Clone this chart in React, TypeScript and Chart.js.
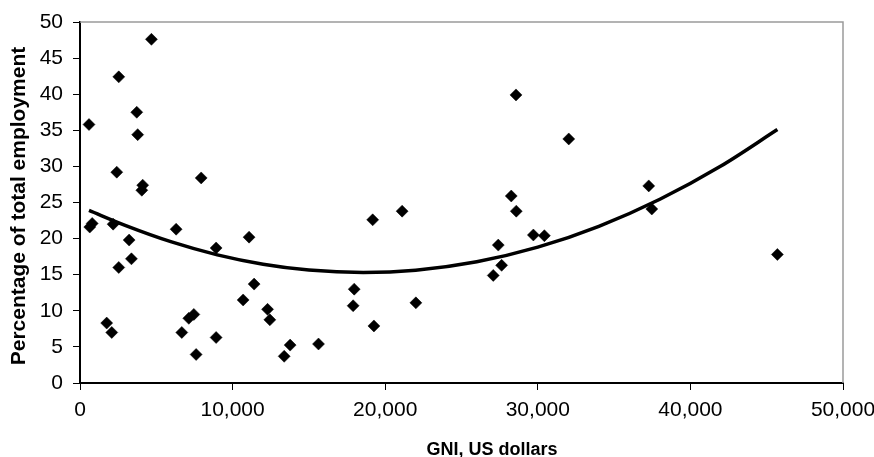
import React, { useEffect, useRef } from "react";
import { Chart, registerables } from "chart.js";

Chart.register(...registerables);

// Scatter data: GNI (US dollars) vs percentage of total employment
const GNI_X = [
  640, 800, 590, 4680, 2540, 3720, 3780, 2410, 4110, 4050,
  7940, 2170, 3220, 3370, 2540, 1750, 2080, 6300, 8920, 11080,
  11410, 10690, 12290, 12440, 6670, 7130, 7460, 7610, 8920, 13380,
  13770, 15630, 17970, 17900, 19260, 22010, 27080, 27630, 27410, 29710,
  30430, 19180, 21110, 28570, 32030, 28260, 28590, 37270, 37470, 45700,
];
const EMP_Y = [
  21.6, 22.1, 35.8, 47.6, 42.4, 37.5, 34.4, 29.2, 27.4, 26.7,
  28.4, 22.0, 19.8, 17.2, 16.0, 8.3, 7.0, 21.3, 18.7, 20.2,
  13.7, 11.5, 10.2, 8.75, 7.0, 8.96, 9.5, 3.95, 6.3, 3.7,
  5.25, 5.4, 13.0, 10.7, 7.9, 11.1, 14.9, 16.3, 19.1, 20.5,
  20.4, 22.6, 23.8, 39.9, 33.8, 25.9, 23.8, 27.3, 24.1, 17.8,
];

// Trend line samples
const TREND_X = [590, 3000, 6000, 9000, 12000, 15000, 18560, 22000, 26000, 30000, 34000, 38000, 42000, 45700];
const TREND_Y = [23.9, 21.8, 19.54, 17.75, 16.45, 15.64, 15.3, 15.62, 16.79, 18.81, 21.7, 25.45, 30.05, 35.1];

const X_TICK_STEP = 10000;
const Y_TICK_STEP = 5;
const X_TITLE = "GNI, US dollars";
const Y_TITLE = "Percentage of total employment";

const FONT = '"Liberation Sans", Arial, sans-serif';

export default function App() {
  const ref = useRef<HTMLCanvasElement | null>(null);

  useEffect(() => {
    if (!ref.current) return;
    const scatter = GNI_X.map((x, i) => ({ x, y: EMP_Y[i] }));
    const trend = TREND_X.map((x, i) => ({ x, y: TREND_Y[i] }));

    const framePlugin = {
      id: "frame",
      beforeDatasetsDraw(chart: any) {
        const { ctx, chartArea } = chart;
        ctx.save();
        ctx.strokeStyle = "#9a9a9a";
        ctx.lineWidth = 1.5;
        ctx.beginPath();
        ctx.moveTo(chartArea.left, chartArea.top);
        ctx.lineTo(chartArea.right, chartArea.top);
        ctx.lineTo(chartArea.right, chartArea.bottom);
        ctx.stroke();
        ctx.restore();
      },
      afterDraw(chart: any) {
        const { ctx } = chart;
        ctx.save();
        ctx.fillStyle = "#000";
        ctx.font = `bold 18px ${FONT}`;
        ctx.textAlign = "center";
        ctx.textBaseline = "alphabetic";
        ctx.fillText(X_TITLE, 492, 455);
        ctx.translate(19, 206);
        ctx.rotate(-Math.PI / 2);
        ctx.font = `bold 21px ${FONT}`;
        ctx.textBaseline = "middle";
        ctx.fillText(Y_TITLE, 0, 0);
        ctx.restore();
      },
    };

    const chart = new Chart(ref.current, {
      type: "scatter",
      data: {
        datasets: [
          {
            type: "line",
            label: "Trend",
            data: trend,
            borderColor: "#000",
            borderWidth: 3.5,
            pointRadius: 0,
            fill: false,
            cubicInterpolationMode: "monotone",
            order: 0,
          } as any,
          {
            type: "scatter",
            label: "Countries",
            data: scatter,
            pointStyle: "rectRot",
            pointRadius: 6,
            pointBackgroundColor: "#000",
            pointBorderColor: "#000",
            pointBorderWidth: 0.5,
            order: 1,
          } as any,
        ],
      },
      options: {
        animation: false,
        responsive: true,
        maintainAspectRatio: false,
        layout: { padding: { top: 22, right: 31, left: 0, bottom: 0 } },
        plugins: { legend: { display: false }, tooltip: { enabled: false } },
        scales: {
          x: {
            type: "linear",
            position: "bottom",
            min: 0,
            max: 50000,
            afterFit: (s: any) => {
              s.height = 74;
              s.paddingLeft = 0;
              s.paddingRight = 0;
            },
            ticks: {
              stepSize: X_TICK_STEP,
              color: "#000",
              font: { family: FONT, size: 21 },
              padding: 8,
              maxRotation: 0,
              callback: (v: any) => Number(v).toLocaleString("en-US"),
            },
            grid: {
              drawOnChartArea: false,
              drawTicks: true,
              tickLength: 7,
              color: "#000",
              lineWidth: 1,
            },
            border: { color: "#000", width: 2 },
          },
          y: {
            type: "linear",
            min: 0,
            max: 50,
            afterFit: (s: any) => {
              s.width = 80;
              s.paddingTop = 0;
              s.paddingBottom = 0;
            },
            ticks: {
              stepSize: Y_TICK_STEP,
              color: "#000",
              font: { family: FONT, size: 21 },
              padding: 10,
            },
            grid: {
              drawOnChartArea: false,
              drawTicks: true,
              tickLength: 7,
              color: "#000",
              lineWidth: 1,
            },
            border: { color: "#000", width: 2 },
          },
        },
      },
      plugins: [framePlugin],
    });
    return () => chart.destroy();
  }, []);

  return (
    <div style={{ position: "absolute", left: 0, top: 0, width: 874, height: 457, background: "#fff" }}>
      <canvas ref={ref} />
    </div>
  );
}
